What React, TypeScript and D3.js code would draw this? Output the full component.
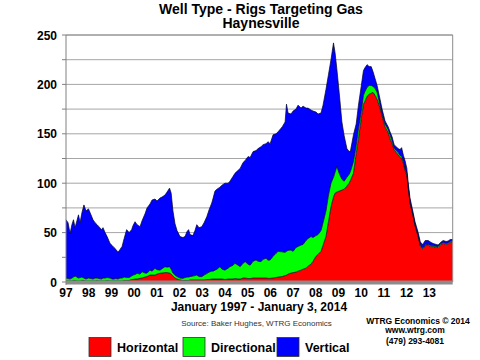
import React from "react";
import * as d3 from "d3";

const dates = [
  1997.0, 1997.09, 1997.18, 1997.26, 1997.33, 1997.4, 1997.48, 1997.55, 1997.62, 1997.7,
  1997.79, 1997.88, 1997.99, 1998.1, 1998.19, 1998.28, 1998.37, 1998.45, 1998.56, 1998.63,
  1998.72, 1998.81, 1998.94, 1999.03, 1999.11, 1999.2, 1999.29, 1999.38, 1999.47, 1999.56,
  1999.67, 1999.78, 1999.89, 1999.95, 2000.04, 2000.13, 2000.26, 2000.35, 2000.48, 2000.57,
  2000.7, 2000.79, 2000.92, 2001.01, 2001.14, 2001.23, 2001.36, 2001.45, 2001.56, 2001.63,
  2001.71, 2001.8, 2001.89, 2002.02, 2002.15, 2002.24, 2002.33, 2002.4, 2002.46, 2002.59,
  2002.68, 2002.76, 2002.86, 2002.98, 2003.08, 2003.2, 2003.3, 2003.42, 2003.48, 2003.56,
  2003.65, 2003.78, 2003.87, 2004.0, 2004.14, 2004.22, 2004.36, 2004.44, 2004.58, 2004.67,
  2004.8, 2004.89, 2005.02, 2005.11, 2005.24, 2005.37, 2005.46, 2005.59, 2005.68, 2005.81,
  2005.9, 2005.99, 2006.12, 2006.25, 2006.34, 2006.52, 2006.65, 2006.71, 2006.78, 2006.91,
  2007.0, 2007.13, 2007.22, 2007.35, 2007.44, 2007.57, 2007.66, 2007.79, 2007.88, 2008.01,
  2008.1, 2008.23, 2008.32, 2008.45, 2008.56, 2008.67, 2008.78, 2008.85, 2008.93, 2009.03,
  2009.15, 2009.25, 2009.37, 2009.47, 2009.53, 2009.66, 2009.78, 2009.88, 2010.0, 2010.1,
  2010.17, 2010.26, 2010.35, 2010.44, 2010.52, 2010.61, 2010.7, 2010.83, 2010.92, 2011.05,
  2011.19, 2011.27, 2011.36, 2011.45, 2011.54, 2011.63, 2011.71, 2011.78, 2011.86, 2011.93,
  2012.01, 2012.07, 2012.15, 2012.29, 2012.37, 2012.51, 2012.6, 2012.68, 2012.74, 2012.82,
  2012.95, 2013.08, 2013.17, 2013.3, 2013.39, 2013.52, 2013.61, 2013.74, 2013.83, 2013.92,
  2014.01,
];

const horizontal = [
  1, 1, 1, 1, 1.5, 1.5, 1, 1, 1, 1.5,
  1.5, 1, 1, 1, 1, 1, 1.5, 1, 1, 1,
  1, 1.5, 1, 1, 1, 1, 1, 1, 1, 1.5,
  1.5, 1.5, 2.5, 2.5, 3, 3, 3.7, 4, 5, 5.5,
  7, 7, 7, 8, 8.8, 9, 9.5, 9.5, 9, 8,
  6, 4, 3, 2, 1.5, 1.5, 1.5, 1.5, 2, 2,
  2, 2, 2, 2, 2, 2.5, 2.5, 3, 3, 3,
  3, 3, 3, 2.5, 3, 3, 3, 3.5, 3, 3,
  4, 4, 3.5, 3.5, 4, 4, 4, 4, 4, 4,
  3.7, 3.7, 4, 4.5, 5, 5.5, 6.5, 7, 8, 9,
  9.5, 10, 11, 12, 13, 14, 16, 18, 21, 26,
  28, 31, 37, 46, 61, 76, 86, 90, 91, 92,
  93, 94, 97, 100, 103, 110, 130, 145, 165, 180,
  183, 188, 190, 191, 192, 189, 185, 176, 168, 157,
  151, 145, 140, 134, 131, 129, 126, 125, 120, 113,
  108, 96, 80, 66, 57, 46, 37, 34, 34, 37,
  37, 36, 36, 35, 35, 38, 39, 38, 38.5, 40,
  41,
];

const directional = [
  3, 2.5, 2, 3, 3.5, 4.5, 4, 3, 3.5, 3.5,
  2.5, 2, 3, 2.5, 2, 3, 2.5, 2.5, 2, 3,
  3, 3, 3, 2, 2, 2.5, 2, 3, 3, 3.5,
  3, 3, 3.5, 4.5, 4.5, 5.8, 4.3, 6.4, 4, 3.5,
  5, 4, 6.8, 4.5, 3.2, 4.5, 6, 5.5, 6.5, 5,
  3, 3, 2.5, 2, 2.2, 3, 3.5, 3.5, 3.4, 4,
  4.5, 5, 3.5, 3.4, 5, 6, 7.5, 8, 8, 9,
  10, 12.5, 10, 9.5, 11, 12.5, 14, 15.5, 14, 12.5,
  15, 16.6, 14.5, 13.5, 17, 18.3, 17, 16.6, 19, 20,
  18.3, 18.6, 22, 24.5, 26, 25, 23.5, 24, 24, 23.4,
  21.5, 25, 25, 25.4, 25, 28, 28, 28, 24, 21,
  20, 21, 23, 26, 27, 24, 20, 21, 26, 18,
  11, 8, 9, 9, 9, 12, 8, 10, 7, 9,
  10, 9, 9, 8, 6, 7, 7, 3, 2, 3,
  3, 4, 3, 2, 2, 2, 2, 2, 2, 2,
  2, 1, 1, 1, 1, 1, 1, 1, 1, 1,
  1, 1, 1, 1, 1, 1, 1, 1, 1, 1,
  1,
];

const vertical = [
  59, 56.5, 46, 54, 58, 49, 57, 64, 55.5, 65,
  74, 69, 70, 64.5, 60, 56, 54, 52.5, 50, 51,
  46, 41.5, 35, 34, 32, 29.5, 27, 29, 32, 39,
  48.5, 45.5, 47, 50, 53.5, 49.2, 48, 51.6, 60, 66,
  67, 72, 70.2, 69.5, 73, 72.5, 72.5, 76, 79.5, 77,
  63, 52, 46.5, 42, 41.3, 41.5, 46, 48, 42.6, 41,
  45.5, 51, 49.5, 50.6, 53, 57.5, 63, 69, 74, 80,
  81, 80.5, 85, 88, 86, 86.5, 90, 91, 96, 99.5,
  102, 102.4, 109, 109, 111, 110.7, 114, 116.4, 116, 116,
  120, 117.7, 123, 121, 121, 126.5, 132, 149, 139, 137.6,
  142, 140, 143, 138.6, 140, 134, 132, 128, 128, 125,
  122, 119, 119, 123, 122, 125, 136, 121, 98, 82,
  58, 46, 29, 23, 21, 27, 22, 24, 26, 25,
  24, 23, 19, 19, 15, 10, 7, 6, 5, 3,
  3, 3, 4, 3, 4, 4, 6, 9, 6, 8,
  5, 3, 4, 3, 3, 3, 3, 3, 4, 4,
  4, 3, 2, 2, 1.5, 1.5, 2, 2, 2, 2,
  1,
];

const seriesKeys = ["horizontal", "directional", "vertical"];
const seriesLabels = ["Horizontal", "Directional", "Vertical"];
const seriesColors = ["#ff0000", "#00ff00", "#0000ff"];
const yTickValues = [0, 25, 50, 75, 100, 125, 150, 175, 200, 225, 250];
const yLabelValues = [0, 50, 100, 150, 200, 250];
const xTickYears = [1997, 1998, 1999, 2000, 2001, 2002, 2003, 2004, 2005, 2006, 2007, 2008, 2009, 2010, 2011, 2012, 2013];
const xTickLabels = ["97", "98", "99", "00", "01", "02", "03", "04", "05", "06", "07", "08", "09", "10", "11", "12", "13"];

const FONT = "Arial, 'Liberation Sans', sans-serif";

export default function App() {
  const left = 66, right = 452.7, top = 35, bottom = 282;
  const x = d3.scaleLinear().domain([1997, 2014.03]).range([left, right]);
  const y = d3.scaleLinear().domain([0, 250]).range([bottom, top]);

  const rows = dates.map((d, i) => ({
    date: d,
    horizontal: horizontal[i],
    directional: directional[i],
    vertical: vertical[i],
  }));
  const stack = d3.stack<any>().keys(seriesKeys);
  const layers = stack(rows);

  const area = d3
    .area<any>()
    .x((d) => x(d.data.date))
    .y0((d) => y(d[0]))
    .y1((d) => y(d[1]));
  const topLine = d3
    .line<any>()
    .x((d) => x(d.data.date))
    .y((d) => y(d[1]));

  const legendX = [89, 183, 277];

  return (
    <svg
      width={480}
      height={360}
      style={{ position: "absolute", left: 0, top: 0, background: "#fff" }}
      fontFamily={FONT}
    >
      <rect x={0} y={0} width={480} height={360} fill="#ffffff" />
      <text x={261} y={13.5} textAnchor="middle" fontSize={14} fontWeight="bold" fill="#000">
        Well Type - Rigs Targeting Gas
      </text>
      <text x={261} y={28} textAnchor="middle" fontSize={14} fontWeight="bold" fill="#000">
        Haynesville
      </text>

      {yTickValues.map((v) => (
        <g key={v}>
          {v > 0 && (
            <line x1={left} x2={right} y1={y(v)} y2={y(v)} stroke="#a6a6a6" strokeWidth={1} />
          )}
          <line x1={left - 4} x2={left} y1={y(v)} y2={y(v)} stroke="#808080" strokeWidth={1} />
        </g>
      ))}
      <line x1={left} x2={right} y1={top} y2={top} stroke="#8c8c8c" strokeWidth={1} />
      <line x1={right} x2={right} y1={top} y2={bottom} stroke="#8c8c8c" strokeWidth={1} />

      {layers.map((layer, i) => (
        <path key={seriesKeys[i]} d={area(layer) || ""} fill={seriesColors[i]} stroke="none" />
      ))}
      {layers.map((layer, i) => (
        <path
          key={seriesKeys[i] + "-edge"}
          d={topLine(layer) || ""}
          fill="none"
          stroke="#00002a"
          strokeWidth={0.7}
        />
      ))}

      <rect x={left} y={280.5} width={right - left} height={4} fill="#8c8c8c" />
      <line x1={left} x2={left} y1={top} y2={bottom + 3} stroke="#808080" strokeWidth={1} />

      {yLabelValues.map((v) => (
        <text
          key={v}
          x={57}
          y={y(v) + 4.5}
          textAnchor="end"
          fontSize={12}
          fontWeight="bold"
          fill="#000"
        >
          {v}
        </text>
      ))}

      {xTickYears.map((yr, i) => (
        <text
          key={yr}
          x={x(yr)}
          y={297}
          textAnchor="middle"
          fontSize={12}
          fontWeight="bold"
          fill="#000"
        >
          {xTickLabels[i]}
        </text>
      ))}

      <text x={259} y={311} textAnchor="middle" fontSize={12} fontWeight="bold" fill="#000">
        January 1997 - January 3, 2014
      </text>
      <text x={256.5} y={326} textAnchor="middle" fontSize={8} fill="#333">
        Source: Baker Hughes, WTRG Economics
      </text>

      <text x={418} y={323.5} textAnchor="middle" fontSize={8.5} fontWeight="bold" fill="#000">
        WTRG Economics © 2014
      </text>
      <text x={415} y={333} textAnchor="middle" fontSize={8.5} fontWeight="bold" fill="#000">
        www.wtrg.com
      </text>
      <text x={415} y={344} textAnchor="middle" fontSize={8.5} fontWeight="bold" fill="#000">
        (479) 293-4081
      </text>

      {seriesLabels.map((lab, i) => (
        <g key={lab}>
          <rect
            x={legendX[i]}
            y={337.5}
            width={22}
            height={19}
            fill={seriesColors[i]}
            stroke="#333"
            strokeWidth={0.8}
          />
          <text
            x={legendX[i] + 28}
            y={352}
            fontSize={12.5}
            fontWeight="bold"
            fill="#000"
          >
            {lab}
          </text>
        </g>
      ))}
    </svg>
  );
}
